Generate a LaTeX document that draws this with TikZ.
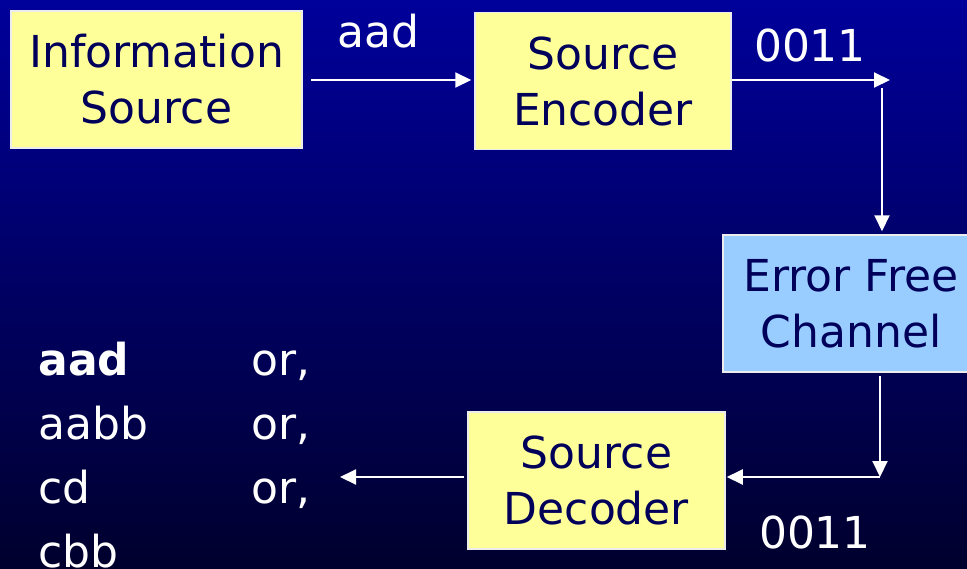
\documentclass[tikz,border=0pt]{standalone}
\usepackage{fontspec}
\setmainfont{DejaVu Sans}
\usetikzlibrary{matrix, positioning, arrows.meta, calc}
\definecolor{bgtop}{RGB}{0,0,155}
\definecolor{bgbottom}{RGB}{0,0,45}
\definecolor{boxyellow}{RGB}{255,255,153}
\definecolor{boxblue}{RGB}{153,204,255}
\definecolor{navytext}{RGB}{0,0,90}
\tikzset{
block/.style={
  draw=white!85!gray,
  line width=1.5pt,
  fill=boxyellow,
  text=navytext,
  inner sep=0pt,
  minimum height=137pt,
  align=center,
  font=\fontsize{44}{56}\selectfont
},
flow/.style={
  draw=white,
  line width=2pt,
  -{Triangle[length=16pt,width=15pt]}
},
tag/.style={text=white, font=\fontsize{44}{56}\selectfont, inner sep=0pt},
words/.style={
  matrix of nodes,
  row sep=0pt,
  column sep=0pt,
  nodes={inner sep=0pt, text=white, align=left,
         text height=45pt, text depth=19pt,
         font=\fontsize{44}{56}\selectfont},
  column 1/.style={nodes={text width=213pt}},
  column 2/.style={nodes={text width=70pt}}
}
}

\begin{document}
\begin{tikzpicture}[x=1pt, y=-1pt]
    \clip (0,0) rectangle (967,568);
    \shade[top color=bgtop, bottom color=bgbottom] (0,0) rectangle (967,568);

    % blocks
    \node[block, minimum width=291pt] (src) at (156.5,79.5) {Information\\Source};
    \node[block, minimum width=256pt] (enc) at (603,81) {Source\\Encoder};
    \node[block, minimum width=256pt, fill=boxblue] (chan) at (851,303.5) {Error Free\\Channel};
    \node[block, minimum width=257pt] (dec) at (596.5,480.5) {Source\\Decoder};

    % free ends
    \coordinate (c1) at (890,80);
    \coordinate (c2) at (882,88);
    \coordinate (c3) at (880,477);
    \coordinate (c4) at (340,477);

    % connectors
    \draw[flow, shorten <=8pt, shorten >=3pt] (src.east |- 0,80) -- (enc.west |- 0,80);
    \draw[flow] (enc.east |- c1) -- (c1);
    \draw[flow, shorten >=3pt] (c2) -- (c2 |- chan.north);
    \draw[flow, shorten <=3pt] (c3 |- chan.south) -- (c3);
    \draw[flow, shorten >=1pt] (c3) -- (c3 -| dec.east);
    \draw[flow, shorten <=3pt] (dec.west |- c4) -- (c4);

    % labels
    \node[tag] (lblaad) at (378,31) {aad};
    \node[tag] (lblenc) at (810,45) {0011};
    \node[tag] (lbldec) at (815,532) {0011};

    \matrix (out) [words, anchor=north west] at (35,327) {
      \textbf{aad} & or, \\
      aabb         & or, \\
      cd           & or, \\
      cbb          &     \\
    };
\end{tikzpicture}
\end{document}
